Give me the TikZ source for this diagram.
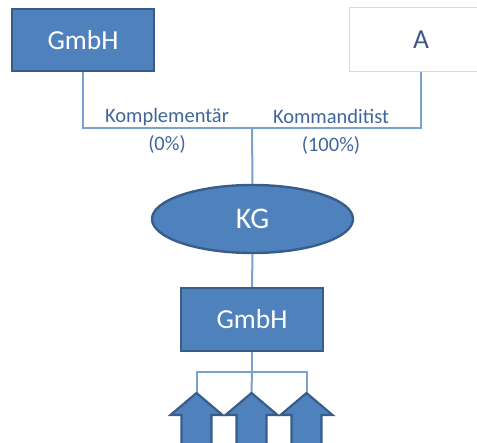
\documentclass[tikz,border=0pt]{standalone}
\usepackage{fontspec}
\setmainfont{Carlito}
\usetikzlibrary{shapes.geometric}
\definecolor{boxfill}{HTML}{4F81BD}
\definecolor{boxline}{HTML}{385D8A}
\definecolor{wire}{HTML}{7BA0CF}
\definecolor{labeltext}{HTML}{3F659A}
\definecolor{darktext}{HTML}{3B5A86}
\definecolor{frame}{HTML}{DADADA}
\tikzset{
  entity/.style={draw=boxline, fill=boxfill, line width=2.4pt, text=white,
    font=\fontsize{27.5}{30}\selectfont, inner sep=0pt},
  person/.style={text=darktext, font=\fontsize{27.5}{30}\selectfont, inner sep=0pt},
  personframe/.style={draw=frame, double=white, double distance=3.5pt, line width=0.9pt},
  wireline/.style={draw=wire, line width=2pt},
  share/.style={text=labeltext, align=center, font=\fontsize{20.5}{28}\selectfont, inner sep=0pt},
  uparrow/.style={draw=boxline, fill=boxfill, line width=2.2pt, line join=miter},
}
\begin{document}
\begin{tikzpicture}[x=1pt, y=-1pt]
  \useasboundingbox (0,0) rectangle (477,443);
  \clip (0,0) rectangle (477,443);

  % owners (the right-hand box runs past the page edge)
  \node[entity, minimum width=142pt, minimum height=62pt] (gp) at (83,40) {GmbH};
  \node[person, minimum width=154pt, minimum height=59pt] (a) at (429,39.5) {A\kern16pt};
  \draw[personframe] ([xshift=20pt]a.north east) -- (a.north west)
    -- (a.south west) -- ([xshift=20pt]a.south east);

  % the partnership and its subsidiary
  \node[entity, ellipse, minimum width=201pt, minimum height=68pt] (kg) at (252.5,219) {\fontsize{30}{32}\selectfont KG};
  \node[entity, minimum width=142pt, minimum height=63pt] (sub) at (252,319.5) {GmbH};

  % junctions
  \coordinate (j) at (252,128);
  \coordinate (k) at (252,372);
  \coordinate (t1) at (196.5,393);
  \coordinate (t2) at (251.5,393);
  \coordinate (t3) at (306.5,393);

  % shareholding connectors
  \draw[wireline] (gp.south) |- (j);
  \draw[wireline] ([xshift=-8pt,yshift=-3pt]a.south) |- (j);
  \draw[wireline] (j) -- (kg.north);
  \draw[wireline] (kg.south) -- (sub.north);
  \draw[wireline] (sub.south) -- (k);
  \draw[wireline] (k) -| (t1);
  \draw[wireline] (k) -| (t3);
  \draw[wireline] (k) -- (t2);

  % block arrows pointing up
  \foreach \t in {t1,t2,t3} {
    \draw[uparrow] (\t) -- ++(26,22) -- ++(-11,0) -- ++(0,40) -- ++(-30,0)
      -- ++(0,-40) -- ++(-11,0) -- cycle;
  }

  % role labels
  \node[share] (lk) at (167,131) {Komplementär\\(0\%)};
  \node[share] (lm) at (331,132) {Kommanditist\\(100\%)};
\end{tikzpicture}
\end{document}
